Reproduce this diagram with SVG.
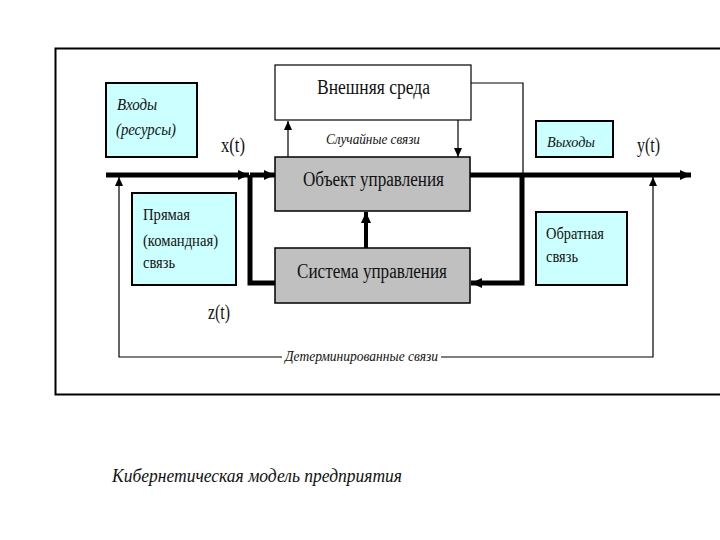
<svg xmlns="http://www.w3.org/2000/svg" width="720" height="540" viewBox="0 0 720 540">
<style>
text{font-family:'Liberation Serif','Times New Roman',serif;fill:#111}
.it{font-style:italic}
.cyan{fill:#ccffff;stroke:#000;stroke-width:2}
.gray{fill:#c0c0c0;stroke:#000;stroke-width:1.5}
.white{fill:#fff;stroke:#000;stroke-width:1.2}
.thin{stroke:#000;stroke-width:1.2;fill:none}
.thick{stroke:#000;stroke-width:5;fill:none}
.med{stroke:#000;stroke-width:4;fill:none}
</style>
<defs>
<marker id="ah" markerUnits="userSpaceOnUse" markerWidth="12" markerHeight="12" viewBox="0 0 12 12" refX="11" refY="6" orient="auto">
<path d="M0,1 L11,6 L0,11 Z" fill="#000"/>
</marker>
<marker id="ahs" markerUnits="userSpaceOnUse" markerWidth="10" markerHeight="10" viewBox="0 0 10 10" refX="9" refY="5" orient="auto">
<path d="M0,1 L9,5 L0,9 Z" fill="#000"/>
</marker>
</defs>
<rect width="720" height="540" fill="#fff"/>
<g id="frame">
<path d="M720,48.5 H55.5 V394.5 H720" fill="none" stroke="#000" stroke-width="2"/>
</g>
<g id="connectors">
<line class="thick" x1="106" y1="175" x2="249" y2="175" marker-end="url(#ah)"/>
<line class="thick" x1="250" y1="175" x2="275" y2="175" marker-end="url(#ah)"/>
<line class="thick" x1="470" y1="175" x2="691" y2="175" marker-end="url(#ah)"/>
<path class="thick" d="M275,283 H250 V175"/>
<path class="thick" d="M522,175 V283 H471" marker-end="url(#ah)"/>
<line class="med" x1="366" y1="248" x2="366" y2="212" marker-end="url(#ah)"/>
<line class="thin" x1="288" y1="157" x2="288" y2="121" marker-end="url(#ahs)"/>
<line class="thin" x1="458" y1="120" x2="458" y2="157" marker-end="url(#ahs)"/>
<path class="thin" d="M471,83 H523 V175"/>
<path class="thin" d="M282,357 H119 V177" marker-end="url(#ahs)"/>
<path class="thin" d="M441,357 H653 V177" marker-end="url(#ahs)"/>
</g>
<g id="inputs">
<rect class="cyan" x="106" y="83" width="91" height="74"/>
<text class="it" x="117" y="110" font-size="16" textLength="40" lengthAdjust="spacingAndGlyphs">Входы</text>
<text class="it" x="116" y="135" font-size="16" textLength="60" lengthAdjust="spacingAndGlyphs">(ресурсы)</text>
</g>
<g id="env">
<rect class="white" x="275" y="65" width="196" height="55"/>
<text x="317" y="94" font-size="20" textLength="113" lengthAdjust="spacingAndGlyphs">Внешняя среда</text>
</g>
<text class="it" x="326" y="144" font-size="14" textLength="94" lengthAdjust="spacingAndGlyphs">Случайные связи</text>
<g id="object">
<rect class="gray" x="275" y="157" width="195" height="54"/>
<text x="303" y="186" font-size="20" textLength="141" lengthAdjust="spacingAndGlyphs">Объект управления</text>
</g>
<g id="control">
<rect class="gray" x="275" y="248" width="195" height="55"/>
<text x="297" y="278" font-size="20" textLength="150" lengthAdjust="spacingAndGlyphs">Система управления</text>
</g>
<g id="direct">
<rect class="cyan" x="132" y="193" width="104" height="92"/>
<text x="143" y="220" font-size="16" textLength="47" lengthAdjust="spacingAndGlyphs">Прямая</text>
<text x="143" y="246" font-size="16" textLength="75" lengthAdjust="spacingAndGlyphs">(командная)</text>
<text x="143" y="268" font-size="16" textLength="32" lengthAdjust="spacingAndGlyphs">связь</text>
</g>
<g id="outputs">
<rect class="cyan" x="536" y="121" width="77" height="36"/>
<text class="it" x="547" y="147" font-size="14" textLength="48" lengthAdjust="spacingAndGlyphs">Выходы</text>
</g>
<g id="feedback">
<rect class="cyan" x="536" y="212" width="91" height="73"/>
<text x="546" y="239" font-size="16" textLength="58" lengthAdjust="spacingAndGlyphs">Обратная</text>
<text x="546" y="262" font-size="16" textLength="32" lengthAdjust="spacingAndGlyphs">связь</text>
</g>
<text x="221" y="152" font-size="20" textLength="24" lengthAdjust="spacingAndGlyphs">x(t)</text>
<text x="637" y="152" font-size="20" textLength="23" lengthAdjust="spacingAndGlyphs">y(t)</text>
<text x="208" y="319" font-size="20" textLength="22" lengthAdjust="spacingAndGlyphs">z(t)</text>
<text class="it" x="285" y="361" font-size="14" textLength="153" lengthAdjust="spacingAndGlyphs">Детерминированные связи</text>
<text class="it" x="112" y="482" font-size="19" textLength="290" lengthAdjust="spacingAndGlyphs">Кибернетическая модель предприятия</text>
</svg>
